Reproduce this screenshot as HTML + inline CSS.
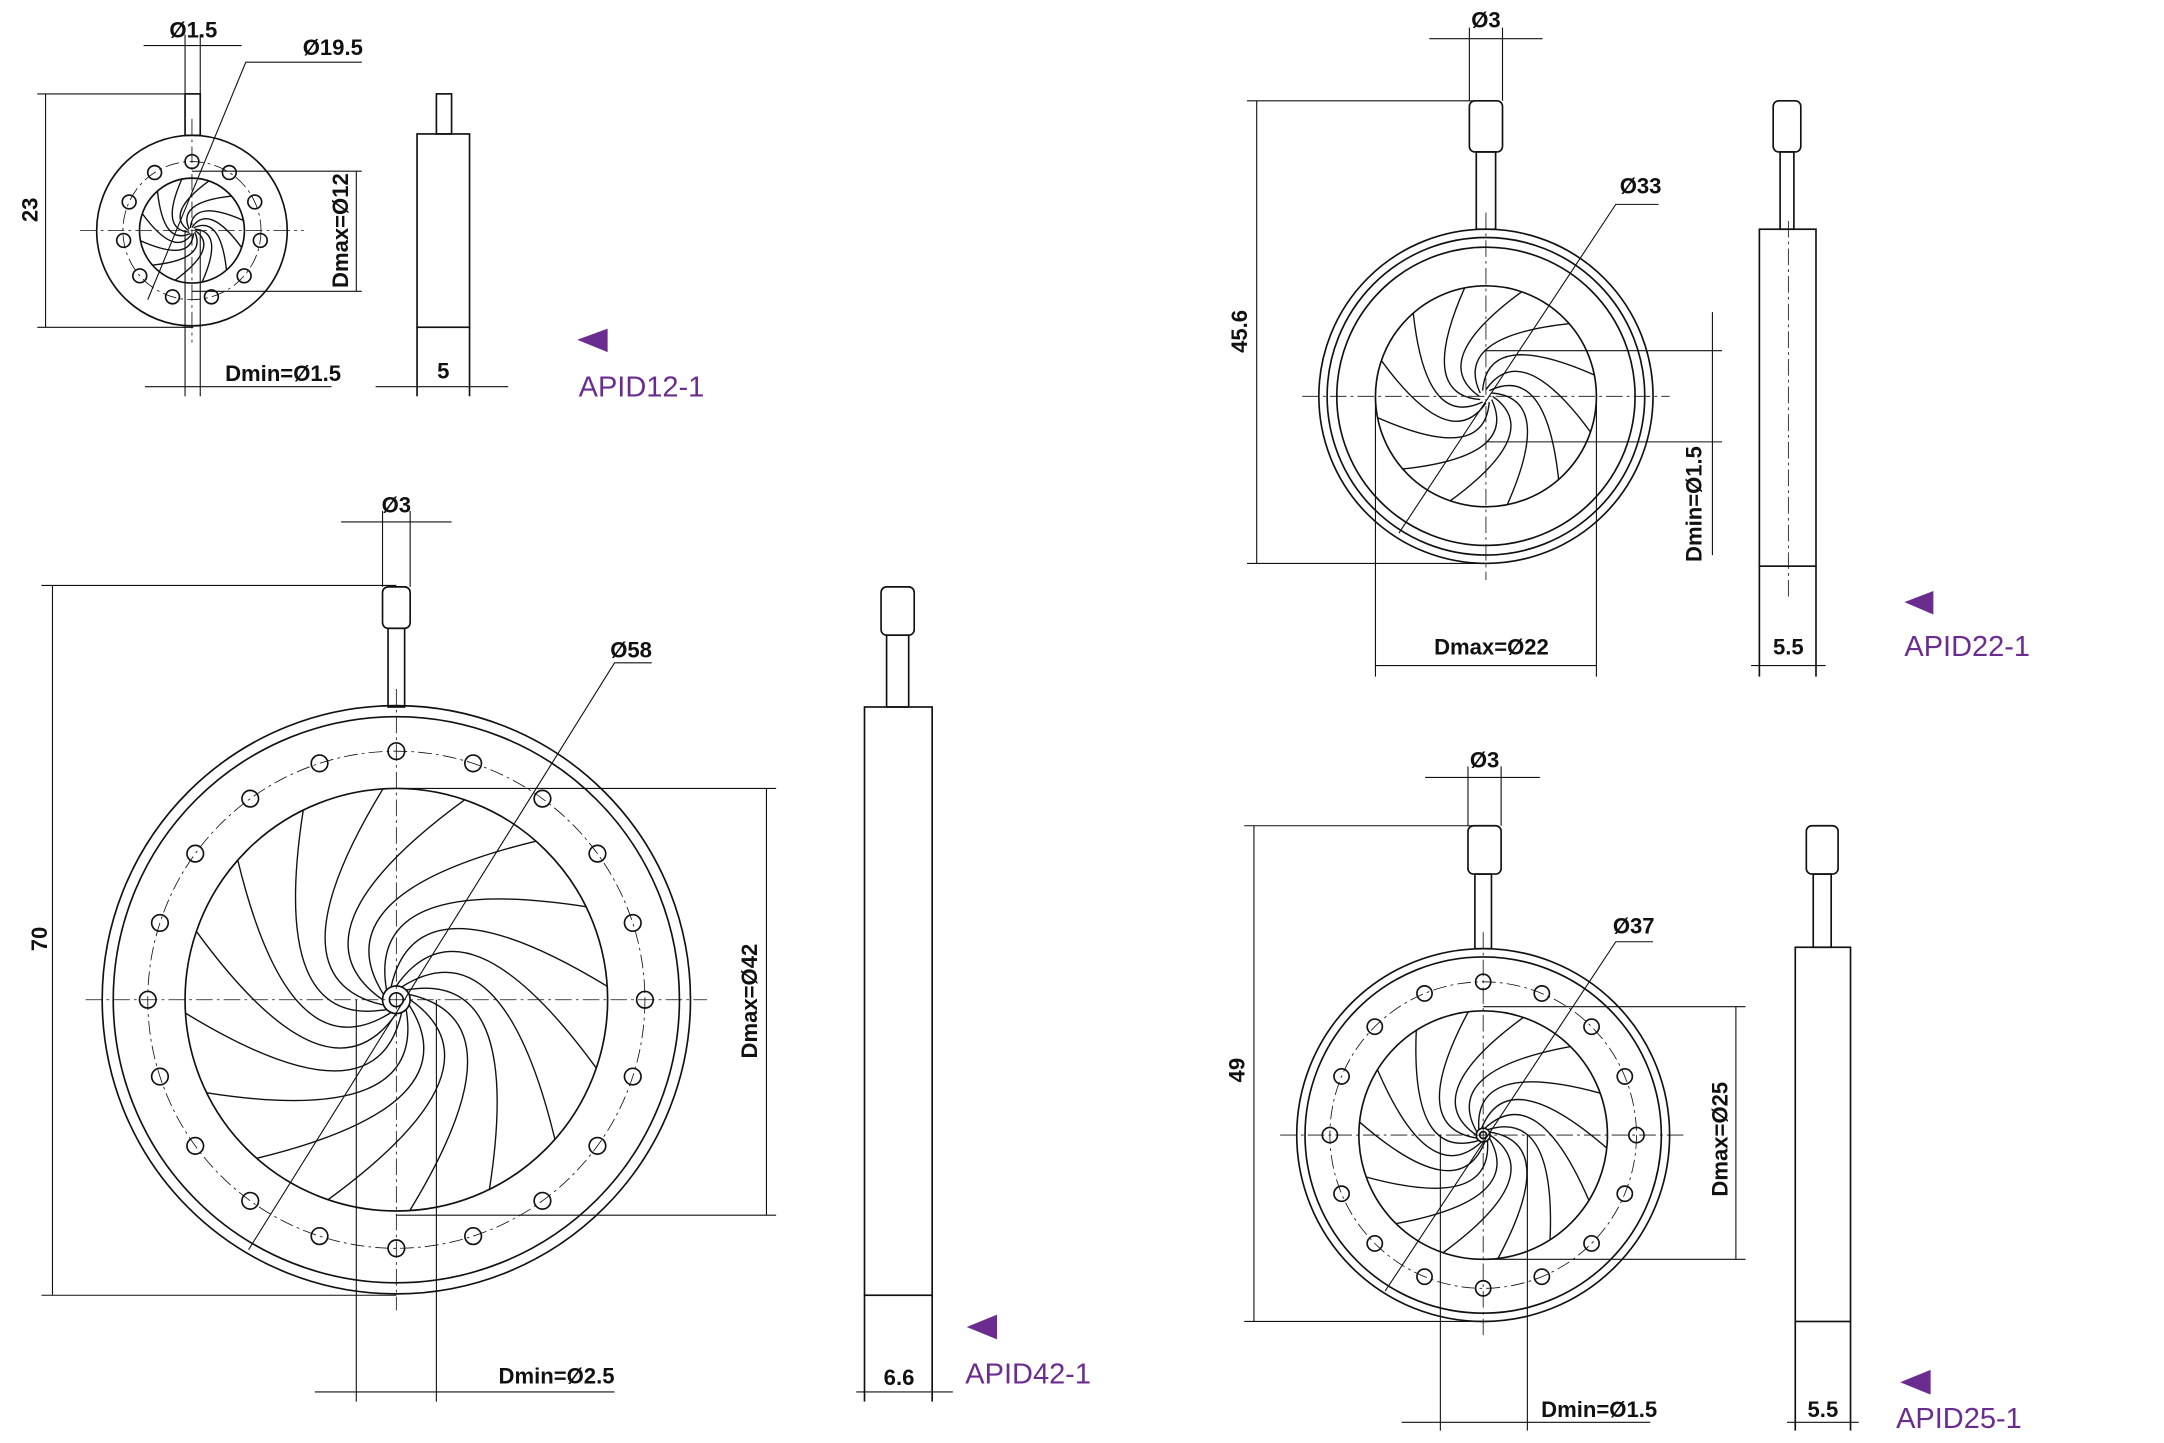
<!DOCTYPE html>
<html><head><meta charset="utf-8">
<style>
html,body{margin:0;padding:0;background:#fff;}
svg{display:block;}
.d{font-family:"Liberation Sans",sans-serif;font-weight:bold;font-size:16px;fill:#111;}
.p{font-family:"Liberation Sans",sans-serif;font-size:21px;fill:#6b2c8f;}
</style></head>
<body>
<svg id="s" width="2164" height="1443" viewBox="0 0 1567 1045" preserveAspectRatio="none" xmlns="http://www.w3.org/2000/svg">
<g id="g" fill="none" stroke="#111" stroke-width="1.2">

<!-- APID12 -->
<line x1="27" y1="68" x2="140" y2="68" stroke-width="0.8"/>
<line x1="27" y1="237" x2="140" y2="237" stroke-width="0.8"/>
<line x1="33" y1="68" x2="33" y2="237" stroke-width="0.8"/>
<line x1="104" y1="33" x2="175" y2="33" stroke-width="0.8"/>
<line x1="134" y1="25" x2="134" y2="68" stroke-width="0.8"/>
<line x1="145" y1="25" x2="145" y2="68" stroke-width="0.8"/>
<polyline points="107,217 178,45 262,45" stroke-width="0.8"/>
<line x1="139" y1="124" x2="262" y2="124" stroke-width="0.8"/>
<line x1="139" y1="211" x2="262" y2="211" stroke-width="0.8"/>
<line x1="258" y1="124" x2="258" y2="211" stroke-width="0.8"/>
<line x1="134" y1="167" x2="134" y2="287" stroke-width="0.8"/>
<line x1="145" y1="167" x2="145" y2="287" stroke-width="0.8"/>
<line x1="105" y1="280" x2="240" y2="280" stroke-width="0.8"/>
<rect x="134" y="68" width="11" height="30"/>
<rect x="316" y="68" width="11" height="29"/>
<rect x="302" y="97" width="38" height="140"/>
<line x1="302" y1="237" x2="302" y2="287"/>
<line x1="340" y1="237" x2="340" y2="287"/>
<line x1="272" y1="280" x2="368" y2="280" stroke-width="0.8"/>

<!-- APID42 -->
<line x1="30" y1="424" x2="287" y2="424" stroke-width="0.8"/>
<line x1="30" y1="938" x2="287" y2="938" stroke-width="0.8"/>
<line x1="38" y1="424" x2="38" y2="938" stroke-width="0.8"/>
<line x1="247" y1="378" x2="327" y2="378" stroke-width="0.8"/>
<line x1="277" y1="370" x2="277" y2="425" stroke-width="0.8"/>
<line x1="297" y1="370" x2="297" y2="425" stroke-width="0.8"/>
<polyline points="180,905 445,480 472,480" stroke-width="0.8"/>
<line x1="287" y1="571" x2="562" y2="571" stroke-width="0.8"/>
<line x1="287" y1="880" x2="562" y2="880" stroke-width="0.8"/>
<line x1="555" y1="571" x2="555" y2="880" stroke-width="0.8"/>
<line x1="258" y1="724" x2="258" y2="1015" stroke-width="0.8"/>
<line x1="316" y1="724" x2="316" y2="1015" stroke-width="0.8"/>
<line x1="228" y1="1008" x2="445" y2="1008" stroke-width="0.8"/>
<rect x="277" y="425" width="20" height="30" rx="4"/>
<rect x="281" y="455" width="12" height="57"/>
<rect x="638" y="425" width="24" height="35" rx="4"/>
<rect x="642" y="460" width="16" height="52"/>
<rect x="626" y="512" width="49" height="426"/>
<line x1="626" y1="938" x2="626" y2="1015"/>
<line x1="675" y1="938" x2="675" y2="1015"/>
<line x1="620" y1="1008" x2="690" y2="1008" stroke-width="0.8"/>

<!-- APID22 -->
<line x1="903" y1="73" x2="1076" y2="73" stroke-width="0.8"/>
<line x1="903" y1="408" x2="1076" y2="408" stroke-width="0.8"/>
<line x1="910" y1="73" x2="910" y2="408" stroke-width="0.8"/>
<line x1="1035" y1="28" x2="1117" y2="28" stroke-width="0.8"/>
<line x1="1064" y1="20" x2="1064" y2="73" stroke-width="0.8"/>
<line x1="1088" y1="20" x2="1088" y2="73" stroke-width="0.8"/>
<polyline points="1013,386 1170,148 1201,148" stroke-width="0.8"/>
<line x1="1076" y1="254" x2="1247" y2="254" stroke-width="0.8"/>
<line x1="1076" y1="320" x2="1247" y2="320" stroke-width="0.8"/>
<line x1="1240" y1="226" x2="1240" y2="402" stroke-width="0.8"/>
<line x1="996" y1="287" x2="996" y2="490" stroke-width="0.8"/>
<line x1="1156" y1="287" x2="1156" y2="490" stroke-width="0.8"/>
<line x1="996" y1="482" x2="1156" y2="482" stroke-width="0.8"/>
<rect x="1064" y="73" width="24" height="37" rx="4"/>
<rect x="1069" y="110" width="14" height="56"/>
<rect x="1284" y="73" width="20" height="37" rx="4"/>
<rect x="1289" y="110" width="10" height="56"/>
<rect x="1274" y="166" width="41" height="244"/>
<line x1="1295" y1="160" x2="1295" y2="435" stroke-width="0.6" stroke-dasharray="12,3,2,3"/>
<line x1="1274" y1="410" x2="1274" y2="490"/>
<line x1="1315" y1="410" x2="1315" y2="490"/>
<line x1="1268" y1="482" x2="1322" y2="482" stroke-width="0.8"/>

<!-- APID25 -->
<line x1="901" y1="598" x2="1074" y2="598" stroke-width="0.8"/>
<line x1="901" y1="957" x2="1074" y2="957" stroke-width="0.8"/>
<line x1="908" y1="598" x2="908" y2="957" stroke-width="0.8"/>
<line x1="1032" y1="563" x2="1115" y2="563" stroke-width="0.8"/>
<line x1="1063" y1="555" x2="1063" y2="598" stroke-width="0.8"/>
<line x1="1087" y1="555" x2="1087" y2="598" stroke-width="0.8"/>
<polyline points="1003,935 1170,682 1197,682" stroke-width="0.8"/>
<line x1="1074" y1="729" x2="1264" y2="729" stroke-width="0.8"/>
<line x1="1074" y1="912" x2="1264" y2="912" stroke-width="0.8"/>
<line x1="1257" y1="729" x2="1257" y2="912" stroke-width="0.8"/>
<line x1="1043" y1="822" x2="1043" y2="1036" stroke-width="0.8"/>
<line x1="1106" y1="822" x2="1106" y2="1036" stroke-width="0.8"/>
<line x1="1015" y1="1030" x2="1195" y2="1030" stroke-width="0.8"/>
<rect x="1063" y="598" width="24" height="35" rx="4"/>
<rect x="1068" y="633" width="12" height="54"/>
<rect x="1308" y="598" width="23" height="35" rx="4"/>
<rect x="1313" y="633" width="13" height="53"/>
<rect x="1300" y="686" width="40" height="271"/>
<line x1="1300" y1="957" x2="1300" y2="1036"/>
<line x1="1340" y1="957" x2="1340" y2="1036"/>
<line x1="1294" y1="1030" x2="1346" y2="1030" stroke-width="0.8"/>
</g>

<g fill="#6b2c8f">
<polygon points="418,246 440,238 440,255"/>
<polygon points="700,961 722,952 722,970"/>
<polygon points="1379,436 1400,428 1400,445"/>
<polygon points="1376,1001 1398,992 1398,1010"/>
</g>

<text class="d" x="140" y="27" text-anchor="middle">Ø1.5</text>
<text class="d" x="241" y="40" text-anchor="middle">Ø19.5</text>
<text class="d" transform="translate(27,152) rotate(-90)" text-anchor="middle">23</text>
<text class="d" transform="translate(252,167) rotate(-90)" text-anchor="middle">Dmax=Ø12</text>
<text class="d" x="205" y="276" text-anchor="middle">Dmin=Ø1.5</text>
<text class="d" x="321" y="274" text-anchor="middle">5</text>
<text class="p" x="419" y="287">APID12-1</text>

<text class="d" x="287" y="371" text-anchor="middle">Ø3</text>
<text class="d" x="457" y="476" text-anchor="middle">Ø58</text>
<text class="d" transform="translate(34,680) rotate(-90)" text-anchor="middle">70</text>
<text class="d" transform="translate(548,725) rotate(-90)" text-anchor="middle">Dmax=Ø42</text>
<text class="d" x="403" y="1002" text-anchor="middle">Dmin=Ø2.5</text>
<text class="d" x="651" y="1003" text-anchor="middle">6.6</text>
<text class="p" x="699" y="1002">APID42-1</text>

<text class="d" x="1076" y="20" text-anchor="middle">Ø3</text>
<text class="d" x="1188" y="140" text-anchor="middle">Ø33</text>
<text class="d" transform="translate(903,240) rotate(-90)" text-anchor="middle">45.6</text>
<text class="d" transform="translate(1232,365) rotate(-90)" text-anchor="middle">Dmin=Ø1.5</text>
<text class="d" x="1080" y="474" text-anchor="middle">Dmax=Ø22</text>
<text class="d" x="1295" y="474" text-anchor="middle">5.5</text>
<text class="p" x="1379" y="475">APID22-1</text>

<text class="d" x="1075" y="556" text-anchor="middle">Ø3</text>
<text class="d" x="1183" y="676" text-anchor="middle">Ø37</text>
<text class="d" transform="translate(901,775) rotate(-90)" text-anchor="middle">49</text>
<text class="d" transform="translate(1251,825) rotate(-90)" text-anchor="middle">Dmax=Ø25</text>
<text class="d" x="1158" y="1026" text-anchor="middle">Dmin=Ø1.5</text>
<text class="d" x="1320" y="1026" text-anchor="middle">5.5</text>
<text class="p" x="1373" y="1034">APID25-1</text>
</svg>
<script>
(function(){
var g=document.getElementById('g');var NS='http://www.w3.org/2000/svg';
function el(t,a){var e=document.createElementNS(NS,t);for(var k in a)e.setAttribute(k,a[k]);g.appendChild(e);return e;}
function iris(o){
 var cx=o.cx,cy=o.cy;
 o.rings.forEach(function(r){el('circle',{cx:cx,cy:cy,r:r});});
 if(o.hr){el('circle',{cx:cx,cy:cy,r:o.hr,'stroke-width':0.6,'stroke-dasharray':'10,3,2,3'});
  for(var i=0;i<o.nh;i++){var a=i*2*Math.PI/o.nh-Math.PI/2;el('circle',{cx:cx+o.hr*Math.cos(a),cy:cy+o.hr*Math.sin(a),r:o.hs});}}
 el('circle',{cx:cx,cy:cy,r:o.ap});
 var ext=o.rings[0]+12;
 el('line',{x1:cx-ext,y1:cy,x2:cx+ext,y2:cy,'stroke-width':0.6,'stroke-dasharray':'12,3,2,3'});
 el('line',{x1:cx,y1:cy-ext,x2:cx,y2:cy+ext,'stroke-width':0.6,'stroke-dasharray':'12,3,2,3'});
 if(o.c){el('circle',{cx:cx,cy:cy,r:o.c});el('circle',{cx:cx,cy:cy,r:o.c/2});}
 var R=o.ap,r0=o.c||R*0.06;
 for(var i=0;i<o.nb;i++){var t=i*2*Math.PI/o.nb;
  var sx=cx+r0*Math.cos(t),sy=cy+r0*Math.sin(t);
  var t2=t+1.9,ex=cx+R*Math.cos(t2),ey=cy+R*Math.sin(t2);
  var tc=t+0.55,rc=R*0.62,qx=cx+rc*Math.cos(tc),qy=cy+rc*Math.sin(tc);
  el('path',{d:'M'+sx+' '+sy+' Q'+qx+' '+qy+' '+ex+' '+ey,'stroke-width':1});}
}
iris({cx:139,cy:167,rings:[69],hr:50,nh:11,hs:5,ap:38,nb:12});
iris({cx:287,cy:724,rings:[213,205],hr:180,nh:20,hs:6,ap:153,nb:16,c:10});
iris({cx:1076,cy:287,rings:[121,115,108],ap:80,nb:12});
iris({cx:1074,cy:822,rings:[135,129],hr:111,nh:16,hs:5.5,ap:90,nb:14,c:5});
})();
</script>
</body></html>
